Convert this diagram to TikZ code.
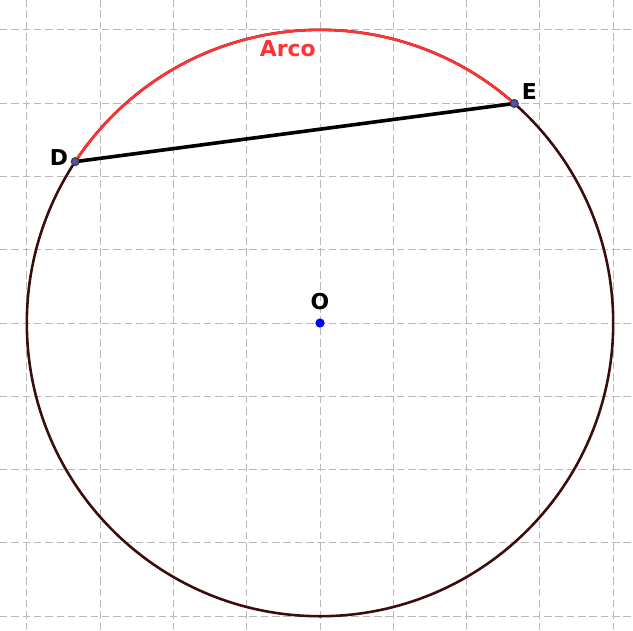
\documentclass[tikz,border=0pt]{standalone}
\usepackage{fontspec}
\setmainfont{DejaVu Sans}
\usetikzlibrary{positioning}
\definecolor{circdark}{RGB}{60,12,12}
\definecolor{arcred}{RGB}{255,51,51}
\definecolor{gridgray}{RGB}{185,185,185}
\definecolor{ptfill}{RGB}{80,80,190}

\begin{document}
\begin{tikzpicture}[
    gridline/.style={draw=gridgray,line width=0.4pt,dash pattern=on 2.9pt off 1.5pt},
    circline/.style={draw=circdark,line width=1pt},
    arcline/.style={draw=arcred,line width=1pt},
    chord/.style={draw=black,line width=1.4pt},
    pt/.style={circle,draw=black!75,fill=ptfill,line width=0.5pt,inner sep=0pt,outer sep=0pt,minimum size=3pt},
    ctr/.style={circle,fill=blue,inner sep=0pt,outer sep=0pt,minimum size=3.6pt},
    lbl/.style={inner sep=0pt,font=\fontsize{8.5}{10}\selectfont\bfseries}
  ]
    \useasboundingbox (-4.366,-4.188) rectangle (4.27,4.407);
    \draw[gridline] (-4.366,-4.188) grid (4.27,4.407);

    \draw[circline] (0,0) circle[radius=4];
    \draw[arcline] (48.5:4) arc[start angle=48.5,end angle=146.6,radius=4];

    \node[ctr] (O) at (0,0) {};
    \node[pt] (D) at (146.6:4) {};
    \node[pt] (E) at (48.5:4) {};
    \draw[chord] (D) -- (E);

    \node[lbl,above=0.11cm of O] (labO) {O};
    \node[lbl,left=0.04cm of D,yshift=0.055cm] (labD) {D};
    \node[lbl,above right=0.01cm and 0.06cm of E] (labE) {E};
    \node[lbl,text=arcred] (arco) at (-0.44,3.74) {Arco};
  \end{tikzpicture}
\end{document}
